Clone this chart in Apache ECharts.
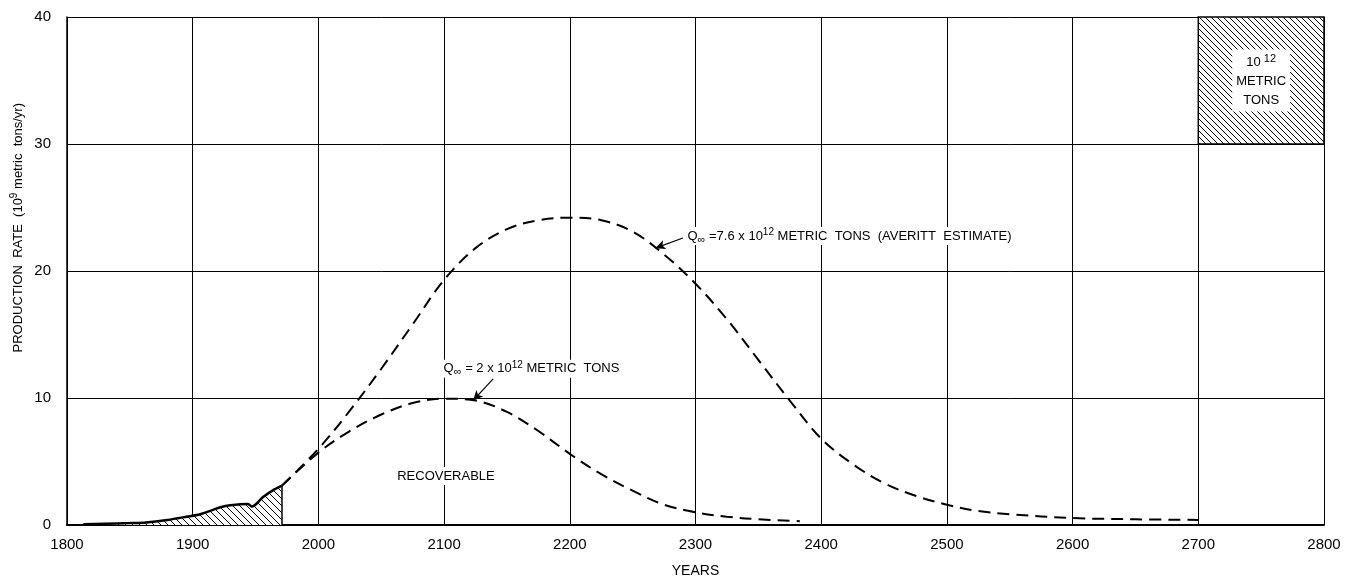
<!DOCTYPE html>
<html>
<head>
<meta charset="utf-8">
<script src="https://cdn.jsdelivr.net/npm/echarts@6/dist/echarts.min.js"></script>
<style>html,body{margin:0;padding:0;background:#fff}#c{width:1362px;height:583px}</style>
</head>
<body>
<div id="c"></div>
<script>
// ---- data ----
const xTicks = [1800, 1900, 2000, 2100, 2200, 2300, 2400, 2500, 2600, 2700, 2800];
const yTicks = [0, 10, 20, 30, 40];
const historicYears = [1813, 1830, 1850, 1863, 1880, 1895, 1906, 1915, 1922, 1930, 1944, 1947, 1956, 1965, 1971];
const historicRate  = [0.05, 0.1, 0.15, 0.2, 0.4, 0.65, 0.85, 1.15, 1.4, 1.55, 1.65, 1.45, 2.2, 2.8, 3.1];
const lowYears = [1971, 2000, 2025, 2050, 2075, 2100, 2125, 2150, 2175, 2200, 2225, 2250, 2275, 2300, 2325, 2350, 2383];
const lowRate  = [3.1, 5.7, 7.4, 8.7, 9.6, 9.95, 9.8, 8.9, 7.4, 5.6, 4.0, 2.7, 1.6, 1.0, 0.65, 0.45, 0.3];
const highYears = [1971, 2000, 2025, 2050, 2075, 2100, 2125, 2150, 2175, 2200, 2225, 2250, 2275, 2300, 2325, 2350, 2375, 2400, 2425, 2450, 2475, 2500, 2525, 2550, 2600, 2650, 2700];
const highRate  = [3.1, 6.0, 9.0, 12.3, 15.8, 19.3, 21.8, 23.3, 24.0, 24.2, 24.0, 23.1, 21.3, 19.0, 16.2, 13.0, 9.8, 6.8, 4.8, 3.3, 2.3, 1.6, 1.1, 0.85, 0.55, 0.45, 0.4];
const scaleBox = { x0: 2700, x1: 2800, y0: 30, y1: 40 };
const labelHigh = { at: [2292, 22.75], arrowFrom: [2290, 22.6], arrowTo: [2268, 21.8] };
const labelLow  = { at: [2098, 12.3], arrowFrom: [2139, 11.5], arrowTo: [2123, 9.8] };
const labelRecoverable = [2101.5, 3.85];

// ---- hatch pattern ----
function hatch(step) {
  const c = document.createElement('canvas');
  c.width = step; c.height = step;
  const g = c.getContext('2d');
  g.fillStyle = '#fff'; g.fillRect(0, 0, step, step);
  g.strokeStyle = '#000'; g.lineWidth = 1;
  g.beginPath();
  g.moveTo(-1, -1); g.lineTo(step + 1, step + 1);
  g.moveTo(-1, step - 1); g.lineTo(1, step + 1);
  g.moveTo(step - 1, -1); g.lineTo(step + 1, 1);
  g.stroke();
  return { image: c, repeat: 'repeat' };
}

const zip = (a, b) => a.map((v, i) => [v, b[i]]);
const FONT = '"Liberation Sans", Arial, sans-serif';
const rich = {
  t: { fontSize: 13, fontFamily: FONT, color: '#000', lineHeight: 18, verticalAlign: 'middle' },
  sub: { fontSize: 11, fontFamily: FONT, color: '#000', lineHeight: 18, verticalAlign: 'bottom' },
  sup: { fontSize: 10, fontFamily: FONT, color: '#000', lineHeight: 18, verticalAlign: 'top' }
};

const chart = echarts.init(document.getElementById('c'), null, { renderer: 'canvas' });
const lastH = historicYears.length - 1;

chart.setOption({
  animation: false,
  backgroundColor: '#fff',
  grid: { left: 67, right: 38, top: 17, bottom: 56 },
  xAxis: {
    type: 'value', min: xTicks[0], max: xTicks[xTicks.length - 1], interval: 100,
    name: 'YEARS', nameLocation: 'middle', nameGap: 39,
    nameTextStyle: { fontSize: 14, fontFamily: FONT, color: '#000' },
    axisLine: { show: true, lineStyle: { color: '#000', width: 2 } },
    axisTick: { show: false },
    axisLabel: { fontSize: 15, fontFamily: FONT, color: '#000', margin: 12, formatter: v => String(v) },
    splitLine: { show: true, showMinLine: true, showMaxLine: true, lineStyle: { color: '#000', width: 1 } }
  },
  yAxis: {
    type: 'value', min: yTicks[0], max: yTicks[yTicks.length - 1], interval: 10,
    axisLine: { show: true, lineStyle: { color: '#000', width: 1.5 } },
    axisTick: { show: false },
    axisLabel: { fontSize: 15, fontFamily: FONT, color: '#000', margin: 16, formatter: v => String(v) },
    splitLine: { show: true, showMaxLine: true, lineStyle: { color: '#000', width: 1 } }
  },
  graphic: [{
    type: 'text', left: 9, top: 103, rotation: Math.PI / 2, silent: true,
    style: {
      text: '{t|PRODUCTION  RATE  (10}{sup|9}{t| metric  tons/yr)}',
      rich: rich
    }
  }],
  series: [
    {
      name: 'historic', type: 'line', data: zip(historicYears, historicRate),
      symbol: 'none', smooth: 0.3, silent: true,
      lineStyle: { color: '#000', width: 2.5 },
      areaStyle: { color: hatch(7), opacity: 1 },
      markLine: {
        silent: true, symbol: ['none', 'none'],
        lineStyle: { color: '#000', width: 1.5, type: 'solid' }, label: { show: false },
        data: [[{ coord: [historicYears[lastH], 0] }, { coord: [historicYears[lastH], historicRate[lastH]] }]]
      },
      markArea: {
        silent: true,
        itemStyle: { color: hatch(6), borderColor: '#000', borderWidth: 1.5, opacity: 1 },
        label: {
          show: true, position: 'inside', backgroundColor: '#fff', padding: [4, 4, 2, 4],
          formatter: '{n|10}{s| 12}\n{m|METRIC}\n{m|TONS}',
          rich: {
            n: { fontSize: 13, fontFamily: FONT, color: '#000', lineHeight: 18, verticalAlign: 'middle' },
            s: { fontSize: 11, fontFamily: FONT, color: '#000', lineHeight: 18, verticalAlign: 'top' },
            m: { fontSize: 13, fontFamily: FONT, color: '#000', lineHeight: 19 }
          }
        },
        data: [[{ coord: [scaleBox.x0, scaleBox.y1] }, { coord: [scaleBox.x1, scaleBox.y0] }]]
      }
    },
    {
      name: 'low', type: 'line', data: zip(lowYears, lowRate),
      symbol: 'none', smooth: 0.35, silent: true,
      lineStyle: { color: '#000', width: 2, type: [12, 7] }
    },
    {
      name: 'high', type: 'line', data: zip(highYears, highRate),
      symbol: 'none', smooth: 0.35, silent: true,
      lineStyle: { color: '#000', width: 2, type: [12, 7] }
    },
    {
      name: 'notes', type: 'scatter', symbolSize: 0, silent: true, z: 5,
      itemStyle: { opacity: 1, color: '#000' },
      label: { show: true, position: 'inside', align: 'left', verticalAlign: 'middle', rich: rich,
               color: '#000', opacity: 1, backgroundColor: '#fff', padding: [0, 2] },
      markLine: {
        silent: true, symbol: ['none', 'arrow'], symbolSize: [7, 10],
        lineStyle: { color: '#000', width: 1.2, type: 'solid', opacity: 1 }, label: { show: false },
        data: [
          [{ coord: labelHigh.arrowFrom }, { coord: labelHigh.arrowTo }],
          [{ coord: labelLow.arrowFrom }, { coord: labelLow.arrowTo }]
        ]
      },
      data: [
        { value: labelHigh.at, label: { formatter: '{t|Q}{sub|∞}{t| =7.6 x 10}{sup|12}{t| METRIC  TONS  (AVERITT  ESTIMATE)}' } },
        { value: labelLow.at, label: { formatter: '{t|Q}{sub|∞}{t| = 2 x 10}{sup|12}{t| METRIC  TONS}' } },
        { value: labelRecoverable, label: { align: 'center', formatter: '{t|RECOVERABLE}' } }
      ]
    }
  ]
});
</script>
</body>
</html>
